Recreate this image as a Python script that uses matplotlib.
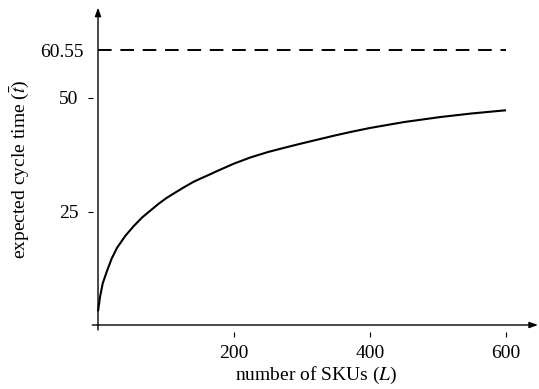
import matplotlib
matplotlib.use("Agg")
import matplotlib.pyplot as plt

plt.rcParams['font.family'] = ['Liberation Serif']
plt.rcParams['mathtext.fontset'] = 'stix'

# data
L_vals = [0, 3, 7, 13, 20, 28, 40, 52, 65, 77, 90, 101, 115, 126, 140, 150, 165, 175, 200,
          224, 250, 273, 297, 322, 350, 371, 400, 450, 503, 550, 600]
t_vals = [3.0, 6.2, 9.2, 11.8, 14.6, 17.0, 19.6, 21.7, 23.7, 25.2, 26.8, 28.0, 29.3, 30.3, 31.5, 32.2,
          33.2, 33.9, 35.55, 36.9, 38.1, 39.0, 39.9, 40.8, 41.8, 42.5, 43.4, 44.7, 45.8, 46.6, 47.3]
limit_value = 60.55
x_ticks = [200, 400, 600]
y_ticks = [25, 50, 60.55]
y_tick_labels = ['25', '50', '60.55']
x_label = r'number of SKUs ($L$)'
y_label = r'expected cycle time ($\bar{t}$)'

FS = 14
W, H = 539, 389
fig = plt.figure(figsize=(W / 100, H / 100), dpi=100)
xlim = (-8, 648)
ylim = (-1.5, 70)
px_x = 0.68
px_y = 4.54
left = 98 + xlim[0] * px_x
right = 98 + xlim[1] * px_x
bottom = 325 - ylim[0] * px_y
top = 325 - ylim[1] * px_y
ax = fig.add_axes([left / W, 1 - bottom / H, (right - left) / W, (bottom - top) / H])
ax.set_xlim(*xlim)
ax.set_ylim(*ylim)
for s in ax.spines.values():
    s.set_visible(False)

# axis lines with arrows
arrow = dict(arrowstyle='-|>,head_length=0.5,head_width=0.18', lw=1.0, color='black',
             shrinkA=0, shrinkB=0)
ax.annotate('', xy=(647, 0), xytext=(-8.4, 0), arrowprops=arrow, annotation_clip=False)
ax.annotate('', xy=(0, 69.9), xytext=(0, -1.1), arrowprops=arrow, annotation_clip=False)

ax.plot([0, 600], [limit_value, limit_value], color='black', lw=1.4, ls=(0, (7, 4.5)))
ax.plot(L_vals, t_vals, color='black', lw=1.5, solid_capstyle='butt', solid_joinstyle='round')

ax.set_xticks(x_ticks)
ax.set_xticklabels([str(v) for v in x_ticks])
ax.set_yticks(y_ticks)
ax.set_yticklabels(y_tick_labels)
ax.tick_params(axis='both', direction='out', length=3.5, width=0.8, labelsize=FS)
ax.tick_params(axis='x', pad=6)
ax.tick_params(axis='y', pad=6.5)
ytk = ax.yaxis.get_major_ticks()
ytk[2].tick1line.set_visible(False)
ytk[2].set_pad(3)

ax.set_xlabel(x_label, fontsize=FS, labelpad=2)
ax.set_ylabel(y_label, fontsize=FS, labelpad=6.5)

fig.savefig('out.png', dpi=100)
